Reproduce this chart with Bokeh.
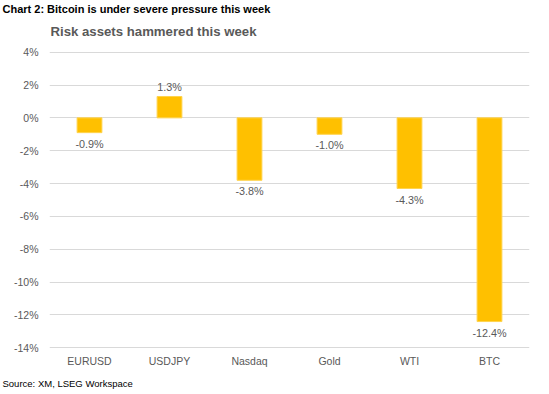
from bokeh.plotting import figure
from bokeh.models import (ColumnDataSource, Range1d, FactorRange, FixedTicker,
                          PrintfTickFormatter, LabelSet, Title)
from bokeh.core.properties import value
from bokeh.embed import file_html
from bokeh.resources import INLINE

categories = ["EURUSD", "USDJPY", "Nasdaq", "Gold", "WTI", "BTC"]
changes = [-0.9, 1.3, -3.8, -1.0, -4.3, -12.4]
y_ticks = [-14, -12, -10, -8, -6, -4, -2, 0, 2, 4]

chart_label = "Chart 2: Bitcoin is under severe pressure this week"
chart_title = "Risk assets hammered this week"
source_note = "Source: XM, LSEG Workspace"

FONT = "Liberation Sans"
GREY = "#595959"

labels = [f"{v:.1f}%" for v in changes]
src = ColumnDataSource(dict(cat=categories, val=changes, lab=labels))
neg = ColumnDataSource(dict(
    cat=[c for c, v in zip(categories, changes) if v < 0],
    val=[v for v in changes if v < 0],
    lab=[l for l, v in zip(labels, changes) if v < 0]))
pos = ColumnDataSource(dict(
    cat=[c for c, v in zip(categories, changes) if v >= 0],
    val=[v for v in changes if v >= 0],
    lab=[l for l, v in zip(labels, changes) if v >= 0]))

p = figure(width=549, height=394, output_backend="svg", toolbar_location=None,
           x_range=FactorRange(*categories, range_padding=0),
           y_range=Range1d(-14.04, 4.04),
           min_border_left=49, min_border_right=20,
           min_border_top=0, min_border_bottom=0)
p.outline_line_color = None
p.background_fill_color = "white"
p.border_fill_color = "white"

p.vbar(x="cat", top="val", bottom=0, width=0.31, source=src,
       fill_color="#FFC000", line_color="#FFD34D", line_width=1)

p.xgrid.grid_line_color = None
p.ygrid.grid_line_color = "#D9D9D9"
p.ygrid.grid_line_width = 1

p.yaxis.ticker = FixedTicker(ticks=y_ticks)
p.yaxis.formatter = PrintfTickFormatter(format="%d%%")
for ax in (p.xaxis, p.yaxis):
    ax.axis_line_color = None
    ax.major_tick_line_color = None
    ax.minor_tick_line_color = None
    ax.major_tick_out = 0
    ax.major_tick_in = 0
    ax.minor_tick_out = 0
    ax.major_label_text_font = FONT
    ax.major_label_text_font_size = "10.5px"
    ax.major_label_text_color = GREY
p.yaxis.major_label_standoff = 11
p.xaxis.major_label_standoff = 6

for s, base, off in ((neg, "top", -5), (pos, "bottom", 4)):
    p.add_layout(LabelSet(x="cat", y="val", text="lab", source=s,
                          text_align="center", text_baseline=base, y_offset=off,
                          text_font=value(FONT), text_font_size="10.8px",
                          text_color=GREY))

p.title = Title(text=chart_label, align="left", offset=-47, standoff=0,
                text_font=FONT, text_font_style="bold", text_font_size="11px",
                text_color="black")
p.add_layout(Title(text=chart_title, align="left", offset=1, standoff=15,
                   padding=dict(left=0, right=0, top=0, bottom=5),
                   text_font=FONT, text_font_style="bold", text_font_size="13.2px",
                   text_color=GREY), "above")
p.add_layout(Title(text=source_note, align="left", offset=-47, standoff=12,
                   text_font=FONT, text_font_style="normal", text_font_size="9.5px",
                   text_color="black"), "below")

open("out.html", "w").write(file_html(p, INLINE))
